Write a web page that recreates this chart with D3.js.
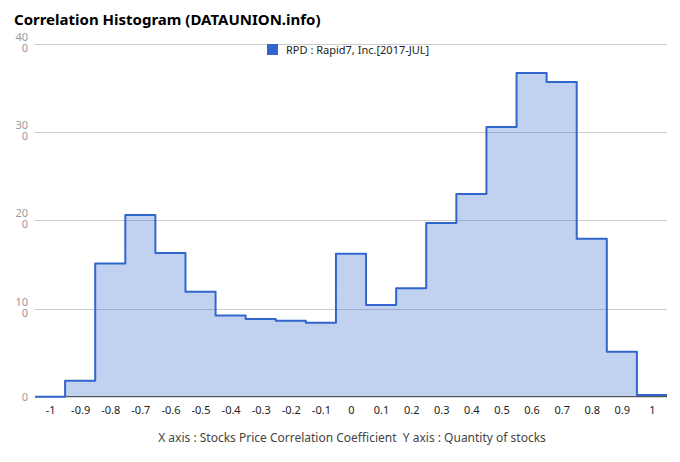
<!DOCTYPE html>
<html><head><meta charset="utf-8">
<script src="https://cdn.jsdelivr.net/npm/d3@7/dist/d3.min.js"></script>
<style>body{margin:0;background:#fff;}svg{display:block;}</style>
</head><body>
<svg id="c" width="680" height="462"></svg>
<script>
const binCenters = [-1,-0.9,-0.8,-0.7,-0.6,-0.5,-0.4,-0.3,-0.2,-0.1,0,0.1,0.2,0.3,0.4,0.5,0.6,0.7,0.8,0.9,1];
const counts = [0,18,151,206,163,119,92,88,86,84,162,104,123,197,230,306,367,357,179,51,2];
const xTicks = [-1,-0.9,-0.8,-0.7,-0.6,-0.5,-0.4,-0.3,-0.2,-0.1,0,0.1,0.2,0.3,0.4,0.5,0.6,0.7,0.8,0.9,1];
const yTicks = [0,100,200,300,400];
const seriesName = "RPD : Rapid7, Inc.[2017-JUL]";
const titleText = "Correlation Histogram (DATAUNION.info)";
const axisTitle = "X axis : Stocks Price Correlation Coefficient  Y axis : Quantity of stocks";

const svg = d3.select("#c");
const font = "'Noto Sans', 'DejaVu Sans', sans-serif";
const x = d3.scaleLinear().domain([-1.05, 1.05]).range([35, 667]);
const y = d3.scaleLinear().domain([0, 400]).range([396.7, 44]);

// title
svg.append("text").attr("x", 14).attr("y", 25).text(titleText)
  .attr("font-family", font).attr("font-weight", "bold").attr("font-size", 15).attr("fill", "#000");

// grid
svg.append("g").selectAll("line").data(yTicks.filter(d => d > 0)).join("line")
  .attr("x1", 35).attr("x2", 667).attr("y1", d => Math.round(y(d)) + 0.5).attr("y2", d => Math.round(y(d)) + 0.5)
  .attr("stroke", "#cccccc").attr("stroke-width", 1);

// y labels (wrapped like the reference)
const yl = svg.append("g").attr("font-family", font).attr("font-size", 11).attr("fill", "#999").attr("text-anchor", "end");
yTicks.forEach(t => {
  const s = String(t);
  if (s.length > 1) {
    const txt = yl.append("text").attr("x", 28).attr("y", y(t) - 3);
    txt.append("tspan").attr("x", 28).text(s.slice(0, 2));
    txt.append("tspan").attr("x", 28).attr("dy", 11).text(s.slice(2));
  } else {
    yl.append("text").attr("x", 28).attr("y", y(t) + 4).text(s);
  }
});

// step data
const pts = binCenters.map((c, i) => ({ x: c - 0.05, v: counts[i] }));
pts.push({ x: binCenters[binCenters.length - 1] + 0.05, v: counts[counts.length - 1] });

const area = d3.area().curve(d3.curveStepAfter).x(d => x(d.x)).y0(y(0)).y1(d => y(d.v));
const line = d3.line().curve(d3.curveStepAfter).x(d => x(d.x)).y(d => y(d.v));

svg.append("path").attr("d", area(pts)).attr("fill", "#3366cc").attr("fill-opacity", 0.3);

// baseline
svg.append("line").attr("x1", 35).attr("x2", 667).attr("y1", y(0)).attr("y2", y(0)).attr("stroke", "#333").attr("stroke-width", 1);

svg.append("path").attr("d", line(pts)).attr("fill", "none").attr("stroke", "#3366cc").attr("stroke-width", 2)
  .attr("stroke-linejoin", "round");

// x axis labels
const xAxis = d3.axisBottom(x).tickValues(xTicks).tickSize(0).tickPadding(10).tickFormat(d => String(+d.toFixed(1)));
const xg = svg.append("g").attr("transform", `translate(0,${y(0)})`).call(xAxis);
xg.select(".domain").remove();
xg.selectAll("text").attr("font-family", font).attr("font-size", 11).attr("fill", "#222");

// legend
svg.append("rect").attr("x", 267).attr("y", 44).attr("width", 11).attr("height", 11).attr("fill", "#3366cc");
svg.append("text").attr("x", 286).attr("y", 53.5).text(seriesName)
  .attr("font-family", font).attr("font-size", 11).attr("fill", "#222");

// axis title
svg.append("text").attr("x", 352).attr("y", 442).attr("text-anchor", "middle").style("white-space", "pre").text(axisTitle)
  .attr("font-family", font).attr("font-size", 12).attr("fill", "#444");
</script>
</body></html>
